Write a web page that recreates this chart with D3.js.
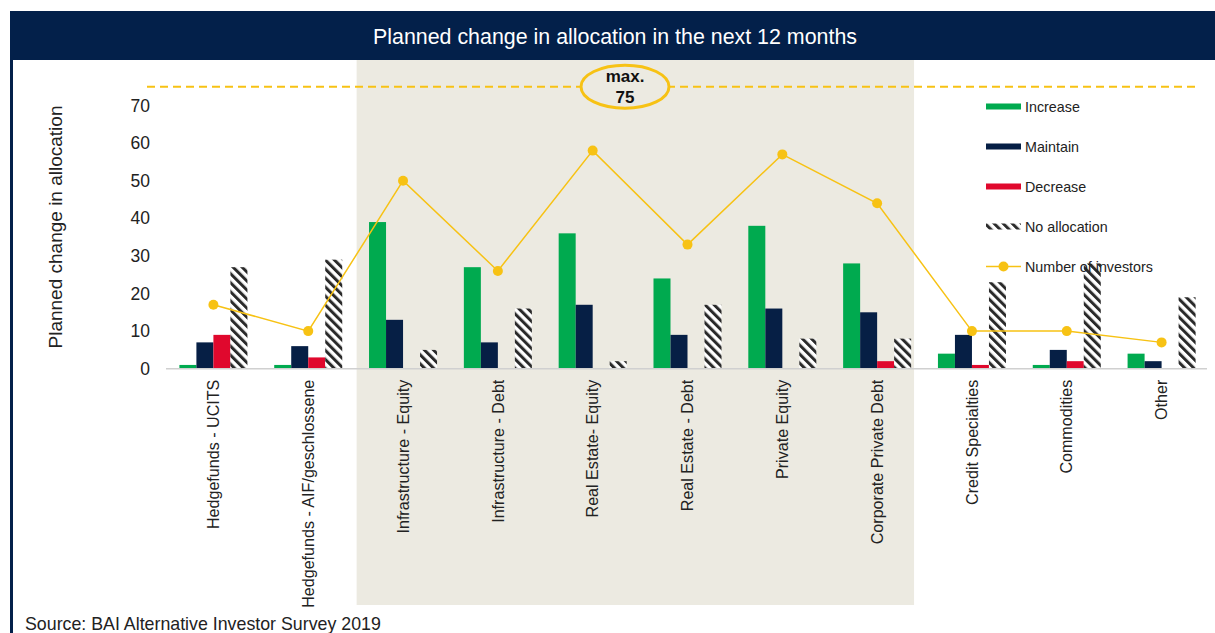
<!DOCTYPE html>
<html>
<head>
<meta charset="utf-8">
<script src="https://cdn.jsdelivr.net/npm/d3@7"></script>
<style>
  html, body { margin: 0; padding: 0; background: #fff; }
  svg { display: block; font-family: "Liberation Sans", Arial, sans-serif; }
</style>
</head>
<body>
<svg id="chart" width="1215" height="633"></svg>
<script>
const categories = [
  "Hedgefunds - UCITS", "Hedgefunds - AIF/geschlossene", "Infrastructure - Equity",
  "Infrastructure - Debt", "Real Estate- Equity", "Real Estate - Debt",
  "Private Equity", "Corporate Private Debt", "Credit Specialties",
  "Commodities", "Other"
];
const seriesNames = ["Increase", "Maintain", "Decrease", "No allocation"];
const increase     = [1, 1, 39, 27, 36, 24, 38, 28, 4, 1, 4];
const maintain     = [7, 6, 13, 7, 17, 9, 16, 15, 9, 5, 2];
const decrease     = [9, 3, 0, 0, 0, 0, 0, 2, 1, 2, 0];
const noAllocation = [27, 29, 5, 16, 2, 17, 8, 8, 23, 28, 19];
const investors    = [17, 10, 50, 26, 58, 33, 57, 44, 10, 10, 7];
const yTicks = [0, 10, 20, 30, 40, 50, 60, 70];
const maxValue = 75;
const highlighted = ["Infrastructure - Equity", "Corporate Private Debt"];

const colors = { "Increase": "#00AA4F", "Maintain": "#061F45", "Decrease": "#E0082D" };
const navy = "#03204A";
const yellow = "#F7C214";
const shade = "#ECEAE1";
const FONT = "'Liberation Sans', Arial, sans-serif";

const svg = d3.select("#chart");
const defs = svg.append("defs");
const pat = defs.append("pattern").attr("id", "hatch")
  .attr("patternUnits", "userSpaceOnUse").attr("width", 6.4).attr("height", 6.4)
  .attr("patternTransform", "rotate(-45)");
pat.append("rect").attr("width", 6.4).attr("height", 6.4).attr("fill", "#fff");
pat.append("rect").attr("width", 3).attr("height", 6.4).attr("fill", "#2a2a2a");

const x = d3.scaleBand().domain(categories).range([166, 1209]).padding(0);
const xi = d3.scaleBand().domain(seriesNames).range([13.4, x.bandwidth() - 13.4]).padding(0);
const y = d3.scaleLinear().domain([0, 70]).range([368.7, 105.5]);

// header
svg.append("rect").attr("x", 10).attr("y", 11).attr("width", 1205).attr("height", 49).attr("fill", navy);
svg.append("text").attr("x", 615).attr("y", 43.5).attr("text-anchor", "middle")
  .attr("fill", "#fff").attr("font-size", 21.4).text("Planned change in allocation in the next 12 months");
// left border
svg.append("rect").attr("x", 10).attr("y", 11).attr("width", 3).attr("height", 622).attr("fill", navy);

// shaded region
const sx0 = x(highlighted[0]) + 1;
const sx1 = x(highlighted[1]) + x.bandwidth() - 10.5;
svg.append("rect").attr("x", sx0).attr("y", 60).attr("width", sx1 - sx0).attr("height", 545).attr("fill", shade);

// max dashed line
svg.append("line").attr("x1", 147).attr("x2", 1199).attr("y1", y(maxValue)).attr("y2", y(maxValue))
  .attr("stroke", yellow).attr("stroke-width", 2).attr("stroke-dasharray", "8,5");
svg.append("ellipse").attr("cx", 625).attr("cy", y(maxValue)).attr("rx", 44).attr("ry", 21.5)
  .attr("fill", shade).attr("stroke", yellow).attr("stroke-width", 3);
svg.append("text").attr("x", 625).attr("y", 82).attr("text-anchor", "middle").attr("font-weight", "bold")
  .attr("font-size", 17).attr("fill", "#111").text("max.");
svg.append("text").attr("x", 625).attr("y", 102.5).attr("text-anchor", "middle").attr("font-weight", "bold")
  .attr("font-size", 17).attr("fill", "#111").text(String(maxValue));

// y axis ticks
const yAxis = d3.axisLeft(y).tickValues(yTicks).tickSize(0).tickPadding(0);
const yg = svg.append("g").attr("transform", "translate(150,0)").call(yAxis);
yg.select(".domain").remove();
yg.selectAll("text").attr("font-size", 17.5).attr("fill", "#222").attr("font-family", FONT);

svg.append("text").attr("transform", "translate(62,227) rotate(-90)").attr("text-anchor", "middle")
  .attr("font-size", 19).attr("fill", "#222").text("Planned change in allocation");

// bars
const seriesData = { "Increase": increase, "Maintain": maintain, "Decrease": decrease, "No allocation": noAllocation };
const barData = [];
categories.forEach((c, i) => seriesNames.forEach(s => barData.push({ c, s, v: seriesData[s][i] })));
svg.append("g").selectAll("rect").data(barData.filter(d => d.v > 0)).join("rect")
  .attr("x", d => x(d.c) + xi(d.s))
  .attr("width", xi.bandwidth())
  .attr("y", d => y(d.v))
  .attr("height", d => y(0) - y(d.v))
  .attr("fill", d => d.s === "No allocation" ? "url(#hatch)" : colors[d.s]);

// x axis
const xAxis = d3.axisBottom(x).tickSize(0).tickPadding(0);
const xg = svg.append("g").attr("transform", `translate(0,${y(0)})`).call(xAxis);
xg.select(".domain").attr("stroke", "#d0d0d0").attr("stroke-width", 1.5).attr("d", "M166,0H1207");
xg.selectAll("text")
  .attr("font-size", 16.1).attr("fill", "#222").attr("font-family", FONT)
  .attr("transform", "translate(0,11) rotate(-90)")
  .attr("text-anchor", "end").attr("dy", "0.35em").attr("y", 0).attr("x", 0);

// line
const cx = c => x(c) + x.bandwidth() / 2;
const line = d3.line().x((d, i) => cx(categories[i])).y(d => y(d));
svg.append("path").datum(investors).attr("d", line).attr("fill", "none")
  .attr("stroke", yellow).attr("stroke-width", 1.5);
svg.append("g").selectAll("circle").data(investors).join("circle")
  .attr("cx", (d, i) => cx(categories[i])).attr("cy", d => y(d)).attr("r", 5).attr("fill", yellow);

// legend
const legendItems = seriesNames.concat(["Number of investors"]);
const lg = svg.append("g").selectAll("g").data(legendItems).join("g")
  .attr("transform", (d, i) => `translate(986,${106.5 + i * 40})`);
lg.each(function (d) {
  const g = d3.select(this);
  if (colors[d]) {
    g.append("rect").attr("x", 0).attr("y", -3).attr("width", 35).attr("height", 6).attr("fill", colors[d]);
  } else if (d === "No allocation") {
    g.append("rect").attr("x", 0).attr("y", -3).attr("width", 35).attr("height", 6).attr("fill", "url(#hatch)");
  } else {
    g.append("line").attr("x1", 0).attr("x2", 35).attr("stroke", yellow).attr("stroke-width", 1.5);
    g.append("circle").attr("cx", 17.5).attr("r", 5).attr("fill", yellow);
  }
  g.append("text").attr("x", 39).attr("dy", "0.35em").attr("font-size", 14.3).attr("fill", "#222").text(d);
});

// source
svg.append("text").attr("x", 25).attr("y", 630).attr("font-size", 17.8).attr("fill", "#222")
  .text("Source: BAI Alternative Investor Survey 2019");
</script>
</body>
</html>
